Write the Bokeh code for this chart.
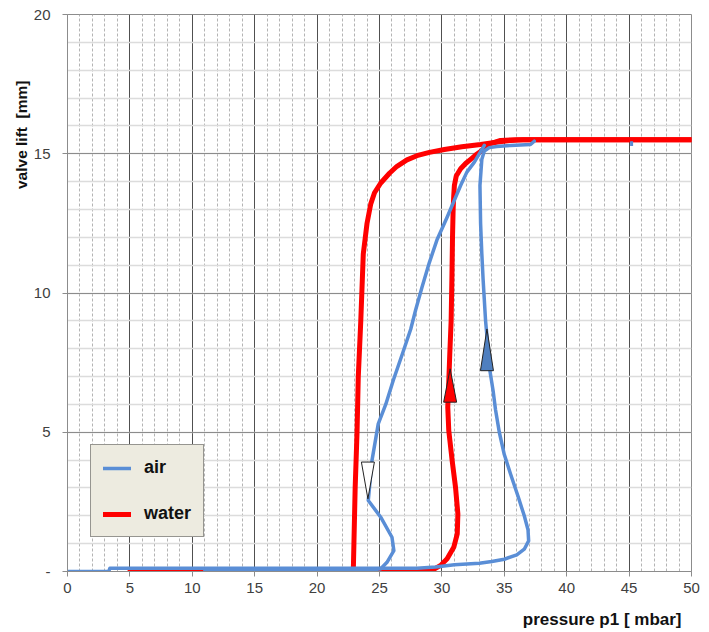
from bokeh.plotting import figure
from bokeh.models import (Range1d, SingleIntervalTicker, Title, Legend, LegendItem)
from bokeh.embed import file_html
from bokeh.resources import INLINE

# ---------------- data ----------------
# water: opening branch (rising pressure)
water_open_x = [5.0, 28.8, 29.2, 29.9, 30.42, 30.95, 31.23, 31.28, 31.09, 30.82, 30.55,
                30.47, 30.55, 30.63, 30.74, 30.8, 30.85, 30.9, 30.95, 31.0, 31.15,
                31.5, 31.9, 32.3, 32.7, 33.1, 33.5, 33.9, 34.7, 36.0, 50.0]
water_open_y = [0.0, 0.0, 0.04, 0.22, 0.46, 0.87, 1.35, 2.07, 3.03, 3.99, 5.06,
                5.9, 6.8, 7.8, 9.0, 10.5, 12.0, 13.0, 13.5, 13.86, 14.2,
                14.46, 14.65, 14.8, 14.95, 15.08, 15.25, 15.36, 15.48, 15.5, 15.5]
# water: closing branch (falling pressure)
water_close_x = [50.0, 36.5, 35.5, 34.5, 33.1, 31.6, 30.2, 29.0, 28.0, 27.2, 26.4,
                 25.8, 25.1, 24.6, 24.3, 24.0, 23.7, 23.5, 23.3, 23.2, 23.05, 22.95, 22.9]
water_close_y = [15.5, 15.5, 15.48, 15.42, 15.33, 15.25, 15.15, 15.05, 14.93, 14.78, 14.55,
                 14.3, 13.95, 13.6, 13.2, 12.5, 11.4, 9.0, 7.0, 5.0, 3.0, 1.0, 0.0]

# air: opening branch
air_open_x = [0.0, 3.3, 3.4, 25.0, 28.0, 29.5, 31.0, 33.0, 34.0, 35.0, 36.0, 36.6,
              36.95, 36.9, 36.6, 36.1, 35.5, 35.0, 34.6, 34.3, 34.1, 33.85, 33.7,
              33.5, 33.3, 33.2, 33.1, 33.05, 33.2, 33.4, 33.8, 34.4, 35.5, 37.1, 37.4]
air_open_y = [0.0, 0.0, 0.12, 0.12, 0.12, 0.16, 0.24, 0.3, 0.36, 0.44, 0.6, 0.8,
              1.1, 1.5, 2.0, 2.7, 3.5, 4.2, 5.0, 5.8, 6.5, 7.2, 8.0,
              9.0, 10.5, 11.4, 12.5, 13.86, 14.8, 15.1, 15.22, 15.26, 15.3, 15.33, 15.45]
# air: closing branch
air_close_x = [33.4, 32.6, 32.0, 31.5, 30.4, 29.6, 29.0, 28.4, 27.9, 27.5, 26.9, 26.1,
               25.5, 24.9, 24.4, 24.1, 25.1, 26.0, 26.15, 25.6, 25.1, 24.0, 11.0]
air_close_y = [15.3, 14.7, 14.34, 13.86, 12.7, 11.9, 11.1, 10.2, 9.4, 8.7, 7.9, 6.86,
               6.0, 5.3, 3.99, 2.55, 1.95, 1.23, 0.75, 0.33, 0.1, 0.03, 0.03]
# isolated air reading near 45 mbar
air_dot_x = [45.2, 45.2]
air_dot_y = [15.28, 15.45]

# direction arrows
arrow_x = [24.07, 30.66, 33.61]
arrow_base = [3.93, 6.08, 7.21]
arrow_tip = [2.61, 7.28, 8.71]
arrow_fill = ["#ffffff", "#ff0000", "#4f7fbf"]

y_label_override = {0: "-"}

AIR = "#5a8ed6"
WATER = "#ff0000"
FONT = "Liberation Sans"
NB = "\u00a0"

# ---------------- figure ----------------
p = figure(frame_width=624, frame_height=557, output_backend="svg", toolbar_location=None,
           x_range=Range1d(0, 50), y_range=Range1d(0, 20),
           min_border_left=67, min_border_right=10, min_border_top=14, min_border_bottom=59)
p.background_fill_color = "white"
p.border_fill_color = "white"
p.outline_line_color = "#8c8c8c"
p.outline_line_width = 1

p.xaxis.ticker = SingleIntervalTicker(interval=5, num_minor_ticks=5)
p.yaxis.ticker = SingleIntervalTicker(interval=5, num_minor_ticks=5)
p.yaxis.major_label_overrides = y_label_override

for ax in (p.xaxis[0], p.yaxis[0]):
    ax.axis_line_color = "#8c8c8c"
    ax.major_tick_line_color = "#8c8c8c"
    ax.major_tick_in = 0
    ax.major_tick_out = 5
    ax.minor_tick_line_color = None
    ax.major_label_text_font = FONT
    ax.major_label_text_font_size = "15px"
    ax.major_label_text_color = "#404040"
p.xaxis.major_label_standoff = 6
p.yaxis.major_label_standoff = 12

# grids
p.xgrid.grid_line_color = "#505050"
p.xgrid.grid_line_width = 1
p.xgrid.minor_grid_line_color = "#b4b4b4"
p.xgrid.minor_grid_line_dash = "3 2"
p.ygrid.grid_line_color = "#8c8c8c"
p.ygrid.grid_line_width = 1
p.ygrid.minor_grid_line_color = "#dcdcdc"
p.ygrid.minor_grid_line_width = 1.5

# axis titles
p.add_layout(Title(text="valve lift" + NB * 2 + "[mm]", align="right", offset=66, standoff=2,
                   text_font=FONT, text_font_size="15.5px", text_font_style="bold",
                   text_color="#111111"), "left")
p.add_layout(Title(text="pressure p1 [ mbar]", align="right", offset=10, standoff=24,
                   text_font=FONT, text_font_size="17px", text_font_style="bold",
                   text_color="#111111"), "below")

# ---------------- curves ----------------
r_w1 = p.line(water_open_x, water_open_y, line_color=WATER, line_width=5,
              line_join="round", line_cap="round")
r_w2 = p.line(water_close_x, water_close_y, line_color=WATER, line_width=5,
              line_join="round", line_cap="round")
r_a1 = p.line(air_open_x, air_open_y, line_color=AIR, line_width=3.5,
              line_join="round", line_cap="round")
r_a2 = p.line(air_close_x, air_close_y, line_color=AIR, line_width=3.5,
              line_join="round", line_cap="round")
p.line(air_dot_x, air_dot_y, line_color=AIR, line_width=3)

# arrows (triangles built from the arrow data)
hw = 6.5 * (50 / 624)
axs = [[x - hw, x + hw, x] for x in arrow_x]
ays = [[b, b, t] for b, t in zip(arrow_base, arrow_tip)]
p.patches(xs=axs, ys=ays, fill_color=arrow_fill, line_color="#222222", line_width=1)

# ---------------- legend ----------------
legend = Legend(items=[LegendItem(label="air", renderers=[r_a1]),
                       LegendItem(label="water", renderers=[r_w1])],
                location=(23, 34), orientation="vertical",
                background_fill_color="#edebe0", background_fill_alpha=1,
                border_line_color="#404040", border_line_width=1,
                label_text_font=FONT, label_text_font_size="18px",
                label_text_font_style="bold", label_text_color="#111111",
                glyph_width=28, glyph_height=20, label_height=20,
                label_standoff=13, spacing=25, padding=12, margin=0)
p.add_layout(legend, "center")

open("out.html", "w").write(file_html(p, INLINE))
